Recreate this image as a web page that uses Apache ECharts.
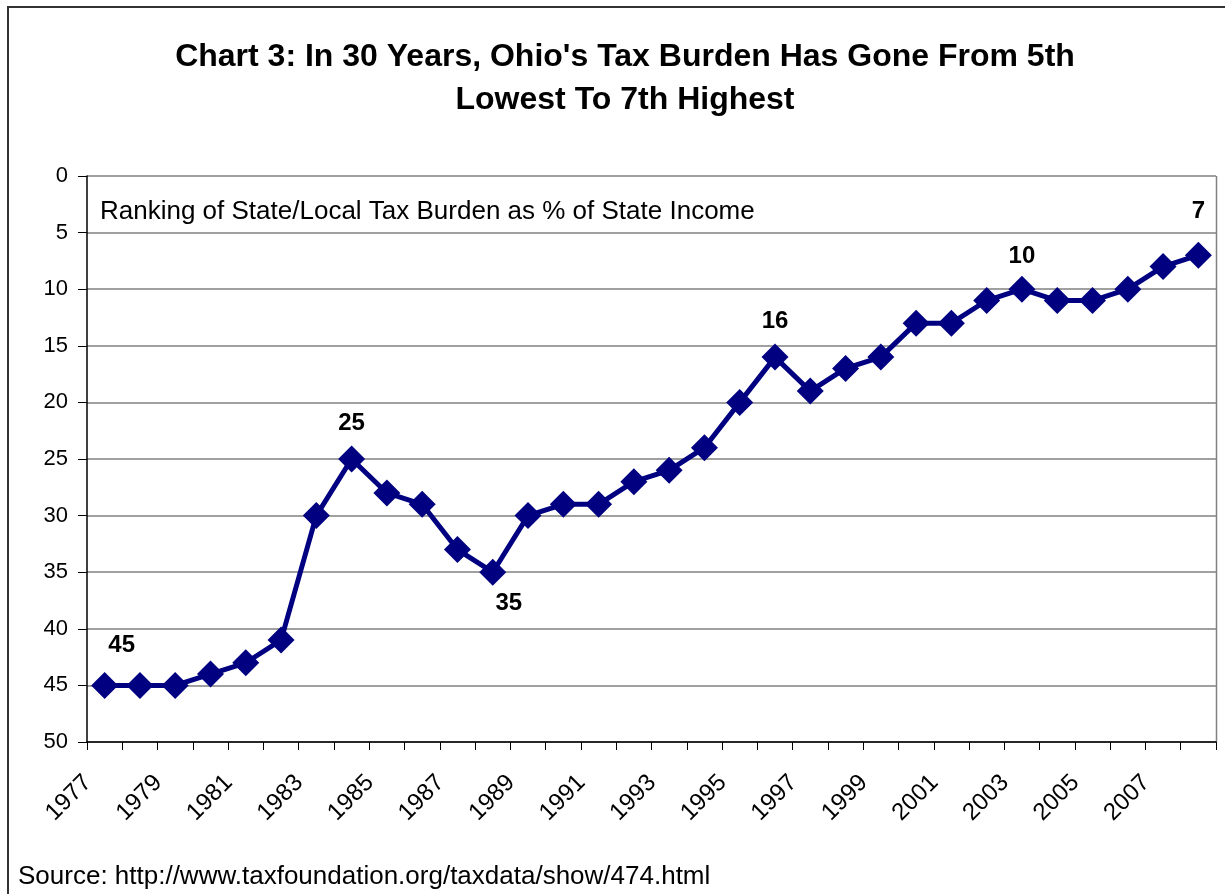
<!DOCTYPE html>
<html>
<head>
<meta charset="utf-8">
<script src="https://cdn.jsdelivr.net/npm/echarts@6/dist/echarts.min.js"></script>
<style>
  html, body { margin: 0; padding: 0; background: #fff; }
  #chart { width: 1225px; height: 894px; }
</style>
</head>
<body>
<div id="chart"></div>
<script>
// Ohio rank in state/local tax burden (1 = highest)
var years = ['1977','1978','1979','1980','1981','1982','1983','1984','1985','1986','1987',
  '1988','1989','1990','1991','1992','1993','1994','1995','1996','1997','1998','1999',
  '2000','2001','2002','2003','2004','2005','2006','2007','2008'];
var ranks = [45, 45, 45, 44, 43, 41, 30, 25, 28, 29, 33,
  35, 30, 29, 29, 27, 26, 24, 20, 16, 19, 17, 16,
  13, 13, 11, 10, 11, 11, 10, 8, 7];
// which points get a value label: position and nudge
var labelled = {
  '1977': ['top', 17, -5],
  '1984': ['top', 0, 0],
  '1988': ['bottom', 16, -4],
  '1996': ['top', 0, 0],
  '2003': ['top', 0, 3],
  '2008': ['top', 0, -8]
};

var FONT = '"Liberation Sans", Arial, sans-serif';

var seriesData = ranks.map(function (v, i) {
  var item = { value: v };
  var l = labelled[years[i]];
  if (l) {
    item.label = {
      show: true,
      position: l[0],
      distance: 10,
      offset: [l[1], l[2]],
      fontFamily: FONT,
      fontSize: 24,
      fontWeight: 'bold',
      color: '#000'
    };
  }
  return item;
});

var myChart = echarts.init(document.getElementById('chart'));
myChart.setOption({
  animation: false,
  backgroundColor: '#fff',
  title: {
    text: "Chart 3: In 30 Years, Ohio's Tax Burden Has Gone From 5th\nLowest To 7th Highest",
    left: 620,
    top: 31,
    textAlign: 'center',
    textStyle: {
      fontFamily: FONT,
      fontSize: 32,
      fontWeight: 'bold',
      color: '#000',
      lineHeight: 43
    }
  },
  grid: { left: 87, right: 9, top: 176, bottom: 152 },
  xAxis: {
    type: 'category',
    data: years,
    boundaryGap: true,
    axisLine: { onZero: false, lineStyle: { color: '#000', width: 1.5 } },
    axisTick: { show: true, interval: 0, length: 8, lineStyle: { color: '#000' } },
    axisLabel: {
      interval: 1,
      rotate: 45,
      margin: 20,
      padding: [0, 24, 0, 0],
      fontFamily: FONT,
      fontSize: 24,
      color: '#000'
    },
    splitLine: { show: false }
  },
  yAxis: {
    type: 'value',
    inverse: true,
    min: 0,
    max: 50,
    interval: 5,
    axisLine: { show: true, lineStyle: { color: '#000', width: 1.5 } },
    axisTick: { show: true, length: 9, lineStyle: { color: '#000' } },
    axisLabel: { margin: 19, fontFamily: FONT, fontSize: 22, color: '#000' },
    splitLine: { show: true, lineStyle: { color: '#808080', width: 1.5 } }
  },
  series: [{
    type: 'line',
    data: seriesData,
    symbol: 'diamond',
    symbolSize: 27,
    showAllSymbol: true,
    lineStyle: { color: '#000080', width: 5 },
    itemStyle: { color: '#000080' },
    z: 3
  }],
  graphic: [
    {
      type: 'rect',
      shape: { x: 8, y: 7, width: 1240, height: 920 },
      style: { fill: null, stroke: '#333', lineWidth: 2 },
      silent: true
    },
    {
      type: 'line',
      shape: { x1: 1216.5, y1: 176, x2: 1216.5, y2: 742 },
      style: { stroke: '#808080', lineWidth: 1.5 }
    },
    {
      type: 'text',
      x: 100,
      y: 212,
      style: {
        text: 'Ranking of State/Local Tax Burden as % of State Income',
        font: '26px ' + FONT,
        fill: '#000',
        verticalAlign: 'middle'
      }
    },
    {
      type: 'text',
      x: 18,
      y: 877,
      style: {
        text: 'Source: http://www.taxfoundation.org/taxdata/show/474.html',
        font: '26px ' + FONT,
        fill: '#000',
        verticalAlign: 'middle'
      }
    }
  ]
});
window.addEventListener('resize', function () { myChart.resize(); });
</script>
</body>
</html>
